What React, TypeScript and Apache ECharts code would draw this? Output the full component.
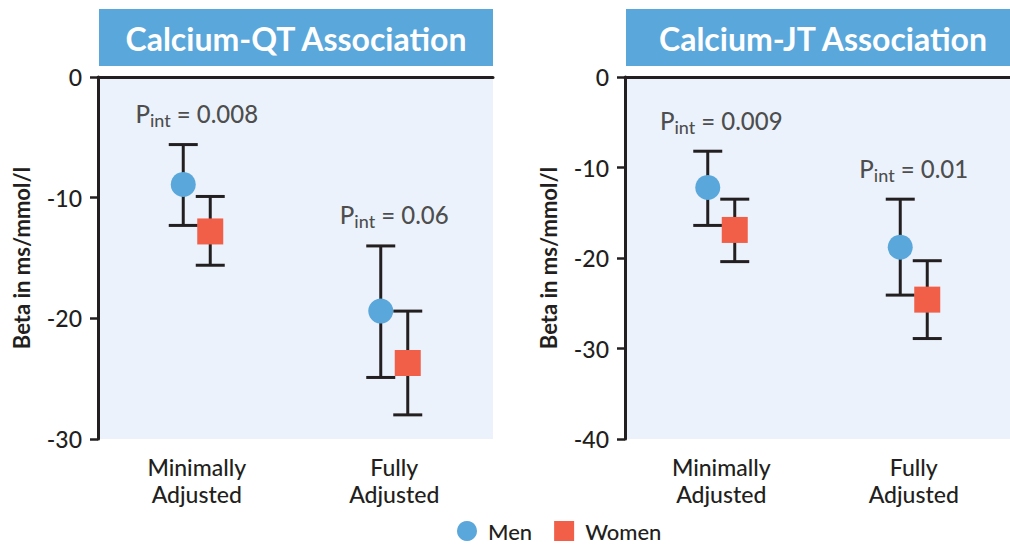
import React, { useEffect, useRef } from "react";
import * as echarts from "echarts";

const categories = ["Minimally\nAdjusted", "Fully\nAdjusted"];

// Calcium-QT
const qtMen = [-8.9, -19.4];
const qtMenLow = [-12.3, -24.9];
const qtMenHigh = [-5.6, -14.0];
const qtWomen = [-12.8, -23.7];
const qtWomenLow = [-15.6, -28.0];
const qtWomenHigh = [-9.9, -19.4];
const qtPint = ["0.008", "0.06"];

// Calcium-JT
const jtMen = [-12.2, -18.8];
const jtMenLow = [-16.4, -24.1];
const jtMenHigh = [-8.2, -13.5];
const jtWomen = [-16.9, -24.6];
const jtWomenLow = [-20.4, -28.9];
const jtWomenHigh = [-13.5, -20.3];
const jtPint = ["0.009", "0.01"];

const yTicksQT = { min: -30, max: 0, interval: 10 };
const yTicksJT = { min: -40, max: 0, interval: 10 };

const FONT = "Lato";
const W = 500;
const INK = "#231f20";
const BLUE = "#5aa7db";
const RED = "#f15f48";
const OFF = 13.5;

function errorBars(axisIdx: number, low: number[], high: number[], offset: number) {
  return {
    type: "custom",
    xAxisIndex: axisIdx,
    yAxisIndex: axisIdx,
    z: 2,
    silent: true,
    encode: { x: 0, y: [1, 2] },
    data: low.map((l, i) => [i, l, high[i]]),
    renderItem: (params: any, api: any) => {
      const x = api.value(0);
      const pLo = api.coord([x, api.value(1)]);
      const pHi = api.coord([x, api.value(2)]);
      const cx = pLo[0] + offset;
      const hw = 14.5;
      const st = { stroke: INK, lineWidth: 3 };
      return {
        type: "group",
        children: [
          { type: "line", shape: { x1: cx, y1: pHi[1], x2: cx, y2: pLo[1] }, style: st },
          { type: "line", shape: { x1: cx - hw, y1: pHi[1], x2: cx + hw, y2: pHi[1] }, style: st },
          { type: "line", shape: { x1: cx - hw, y1: pLo[1], x2: cx + hw, y2: pLo[1] }, style: st },
        ],
      };
    },
  };
}

function points(axisIdx: number, name: string, vals: number[], symbol: string, size: number, color: string, offset: number) {
  return {
    type: "scatter",
    name,
    xAxisIndex: axisIdx,
    yAxisIndex: axisIdx,
    z: 5,
    symbol,
    symbolSize: size,
    symbolOffset: [offset, 0],
    itemStyle: { color, opacity: 1 },
    data: vals.map((v, i) => [i, v]),
  };
}

function pLabels(axisIdx: number, anchor: number[], labels: string[]) {
  return {
    type: "scatter",
    xAxisIndex: axisIdx,
    yAxisIndex: axisIdx,
    symbolSize: 0,
    silent: true,
    z: 6,
    data: anchor.map((v, i) => [i, v]),
    label: {
      show: true,
      position: "inside",
      offset: [0, -31],
      color: INK,
      formatter: (p: any) => `{p|P}{s|int}{p| = ${labels[p.dataIndex]}}`,
      rich: {
        p: { fontFamily: FONT, fontWeight: W, fontSize: 24, color: INK, lineHeight: 28 },
        s: { fontFamily: FONT, fontWeight: W, fontSize: 18, color: INK, padding: [13, 0, 0, 0], lineHeight: 18 },
      },
    },
  };
}

function xAxis(gridIndex: number) {
  return {
    type: "category",
    gridIndex,
    data: categories,
    boundaryGap: true,
    axisLine: { lineStyle: { color: INK, width: 3 } },
    axisTick: { alignWithLabel: true, length: 8, lineStyle: { color: INK, width: 2.5 } },
    axisLabel: { fontFamily: FONT, fontWeight: W, fontSize: 23, color: INK, lineHeight: 27, margin: 14 },
    splitLine: { show: false },
  };
}

function yAxis(gridIndex: number, t: { min: number; max: number; interval: number }) {
  return {
    type: "value",
    gridIndex,
    min: t.min,
    max: t.max,
    interval: t.interval,
    name: "Beta in ms/mmol/l",
    nameLocation: "middle",
    nameRotate: 90,
    nameGap: 66,
    nameTextStyle: { fontFamily: FONT, fontSize: 22, fontWeight: "bold", color: INK },
    axisLine: { show: true, lineStyle: { color: INK, width: 3 } },
    axisTick: { show: true, length: 8, lineStyle: { color: INK, width: 2.5 } },
    axisLabel: { fontFamily: FONT, fontWeight: W, fontSize: 23, color: INK, margin: 16 },
    splitLine: { show: false },
  };
}

export default function App() {
  const ref = useRef<HTMLDivElement>(null);
  useEffect(() => {
    document.body.style.margin = "0";
    if (!ref.current) return;
    const chart = echarts.init(ref.current, null, { renderer: "svg" });
    const titleBox = (x: number, w: number, text: string) => ({
      type: "group",
      children: [
        { type: "rect", shape: { x, y: 9, width: w, height: 57 }, style: { fill: BLUE } },
        {
          type: "text",
          x: x + w / 2,
          y: 38,
          style: {
            text,
            fill: "#ffffff",
            font: `bold 32px "${FONT}"`,
            textAlign: "center",
            textVerticalAlign: "middle",
          },
        },
      ],
    });
    chart.setOption({
      animation: false,
      grid: [
        { left: 98, top: 77, width: 395, height: 362, show: true, backgroundColor: "#ebf2fb", borderWidth: 0 },
        { left: 625, top: 77, width: 395, height: 362, show: true, backgroundColor: "#ebf2fb", borderWidth: 0 },
      ],
      xAxis: [xAxis(0), xAxis(1)],
      yAxis: [yAxis(0, yTicksQT), yAxis(1, yTicksJT)],
      legend: {
        data: ["Men", "Women"],
        left: 452,
        top: 515,
        itemWidth: 20,
        itemHeight: 20,
        itemGap: 22,
        textStyle: { fontFamily: FONT, fontWeight: W, fontSize: 22, color: INK, padding: [0, 0, 0, 6] },
      },
      graphic: [titleBox(99, 394, "Calcium-QT Association"), titleBox(626, 394, "Calcium-JT Association")],
      series: [
        errorBars(0, qtMenLow, qtMenHigh, -OFF),
        errorBars(0, qtWomenLow, qtWomenHigh, OFF),
        points(0, "Men", qtMen, "circle", 25, BLUE, -OFF),
        points(0, "Women", qtWomen, "rect", 26, RED, OFF),
        pLabels(0, qtMenHigh, qtPint),
        errorBars(1, jtMenLow, jtMenHigh, -OFF),
        errorBars(1, jtWomenLow, jtWomenHigh, OFF),
        points(1, "Men", jtMen, "circle", 25, BLUE, -OFF),
        points(1, "Women", jtWomen, "rect", 26, RED, OFF),
        pLabels(1, jtMenHigh, jtPint),
      ],
    });
    return () => chart.dispose();
  }, []);
  return <div ref={ref} style={{ width: 1010, height: 546 }} />;
}
